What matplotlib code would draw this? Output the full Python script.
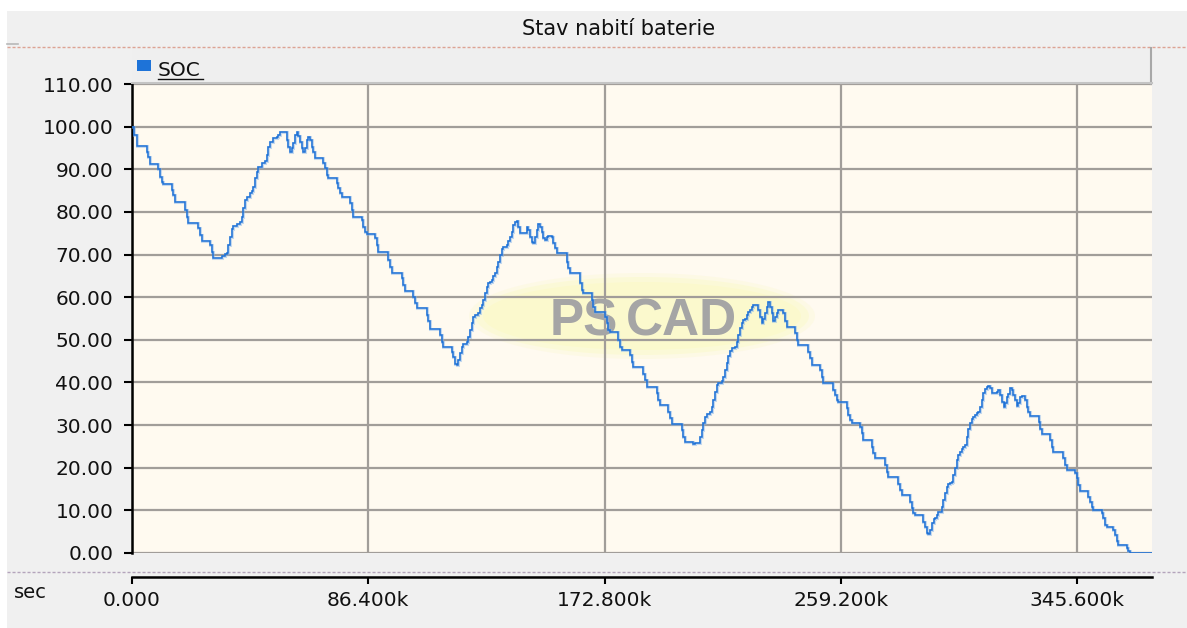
import numpy as np
import matplotlib
matplotlib.use("Agg")
import matplotlib.pyplot as plt
from matplotlib.patches import Rectangle, Ellipse
from matplotlib.lines import Line2D

# ---------------- data (time in kiloseconds, SOC in %) ----------------
time_ks = [
    0.0, 0.7, 1.9, 5.4, 6.0, 6.6, 9.6, 10.2, 10.9, 11.5, 14.5, 15.1, 15.7, 19.4, 20.0, 20.6,
    24.2, 24.9, 25.5, 28.5, 29.1, 29.7, 32.8, 34.0, 34.6, 35.2, 35.8, 36.5, 37.1, 38.3, 39.5,
    40.1, 40.7, 41.3, 41.9, 43.2, 43.8, 44.4, 45.0, 45.6, 46.2, 47.4, 48.6, 49.3, 49.9, 50.5,
    51.7, 52.9, 53.5, 54.1, 56.6, 57.2, 57.8, 58.4, 59.0, 59.6, 60.2, 60.8, 61.4, 62.1, 62.7,
    63.3, 63.9, 64.5, 65.1, 65.7, 66.3, 66.9, 70.0, 70.6, 71.2, 71.8, 74.9, 75.5, 76.1, 76.7,
    79.7, 80.3, 80.9, 84.0, 84.6, 85.2, 85.8, 88.9, 89.5, 90.1, 93.7, 94.4, 95.0, 98.6, 99.2,
    99.8, 102.9, 103.5, 104.1, 107.8, 108.4, 109.0, 112.6, 113.3, 113.9, 116.9, 117.5, 118.1,
    118.7, 119.3, 120.0, 120.6, 121.2, 122.4, 123.0, 123.6, 124.2, 124.8, 125.4, 126.6, 127.3,
    127.9, 128.5, 129.1, 129.7, 130.3, 130.9, 131.5, 132.1, 132.8, 133.4, 134.0, 134.6, 135.2,
    135.8, 137.0, 137.6, 138.2, 138.9, 139.5, 140.1, 140.7, 141.3, 141.9, 144.3, 144.9, 145.6,
    146.2, 146.8, 147.4, 148.0, 148.6, 149.2, 149.8, 150.4, 151.0, 151.6, 152.2, 153.5, 154.1,
    154.7, 155.3, 159.0, 159.6, 160.2, 163.8, 164.5, 165.1, 168.1, 168.7, 169.3, 173.0, 173.6,
    174.2, 174.8, 177.9, 178.5, 179.1, 182.1, 182.7, 183.3, 187.0, 187.6, 188.2, 191.9, 192.5,
    193.1, 196.1, 196.7, 197.4, 201.0, 201.6, 202.2, 205.3, 205.9, 207.7, 208.3, 208.9, 209.6,
    210.2, 211.4, 212.0, 212.6, 213.2, 213.8, 214.4, 215.7, 216.3, 216.9, 217.5, 218.1, 218.7,
    219.3, 220.5, 221.1, 221.7, 222.4, 223.0, 223.6, 224.2, 224.8, 225.4, 226.0, 226.6, 227.2,
    229.1, 229.7, 230.3, 230.9, 231.5, 232.1, 232.7, 233.3, 233.9, 234.5, 235.2, 235.8, 236.4,
    238.2, 238.8, 239.4, 242.5, 243.1, 243.7, 247.3, 248.0, 248.6, 251.6, 252.2, 252.8, 256.5,
    257.1, 257.7, 258.3, 261.3, 262.0, 262.6, 263.2, 266.2, 266.8, 267.4, 270.5, 271.1, 271.7,
    275.4, 276.0, 276.6, 280.2, 280.9, 281.5, 284.5, 285.1, 285.7, 286.3, 289.4, 290.0, 290.6,
    291.2, 291.8, 292.5, 293.1, 293.7, 294.3, 294.9, 295.5, 296.1, 296.7, 297.3, 297.9, 298.5,
    299.1, 299.8, 300.4, 301.0, 301.6, 302.2, 302.8, 303.4, 304.0, 304.6, 305.2, 305.8, 306.5,
    307.1, 307.7, 308.3, 308.9, 309.5, 310.1, 310.7, 311.3, 311.9, 312.6, 313.2, 313.8, 314.4,
    316.2, 316.8, 317.4, 318.1, 318.7, 319.3, 319.9, 320.5, 321.1, 321.7, 322.3, 322.9, 323.5,
    324.1, 324.8, 325.4, 326.6, 327.2, 327.8, 328.4, 331.5, 332.1, 332.7, 335.7, 336.3, 336.9,
    340.6, 341.2, 341.8, 344.9, 345.5, 346.1, 346.7, 349.7, 350.3, 351.0, 351.6, 354.6, 355.2,
    355.8, 356.4, 358.9, 359.5, 360.1, 360.7, 363.8, 364.4, 365.0, 373.0,
]
soc = [
    100.0, 98.0, 95.5, 94.1, 92.8, 91.2, 90.0, 88.3, 87.1, 86.6, 85.1, 84.0, 82.4, 80.4, 78.9, 77.5,
    76.2, 74.6, 73.2, 72.2, 70.7, 69.1, 69.7, 70.1, 70.3, 72.2, 74.2, 76.0, 76.7, 77.2, 77.7,
    78.9, 80.8, 82.8, 83.6, 84.4, 85.0, 85.9, 87.9, 89.4, 90.6, 91.4, 92.0, 93.3, 95.3, 96.5,
    97.3, 97.6, 98.0, 98.8, 96.9, 95.3, 94.1, 94.9, 96.1, 98.0, 98.8, 97.8, 96.5, 94.9, 94.1,
    94.9, 96.9, 97.5, 96.9, 95.3, 94.1, 92.6, 91.4, 90.2, 88.7, 87.9, 86.7, 85.5, 84.4, 83.6,
    82.0, 80.4, 78.9, 78.1, 76.5, 75.4, 74.8, 73.8, 72.2, 70.7, 68.7, 67.1, 65.7, 64.4, 62.9,
    61.5, 60.1, 58.6, 57.4, 55.8, 54.3, 52.5, 51.1, 49.6, 48.2, 47.2, 46.0, 44.3,
    44.1, 45.3, 46.8, 48.4, 49.0, 49.6, 50.7, 52.3, 53.9, 55.4, 55.8, 56.4, 57.4,
    58.2, 59.3, 60.9, 62.3, 63.3, 63.6, 64.0, 65.0, 65.7, 67.1, 68.3, 69.9, 71.2,
    71.7, 72.2, 73.2, 74.2, 75.4, 76.9, 77.7, 77.9, 76.5, 75.0, 76.5, 75.8, 74.2,
    73.0, 72.8, 74.2, 75.8, 77.2, 76.5, 75.4, 73.8, 73.4, 74.2, 74.3, 74.0, 72.6,
    71.5, 70.3, 68.3, 66.8, 65.6, 63.3, 61.7, 60.9, 59.3, 57.8, 56.6, 55.4, 53.9,
    52.3, 51.9, 50.0, 48.4, 47.6, 46.4, 44.9, 43.6, 42.1, 40.6, 39.0, 37.5, 35.9,
    34.7, 33.1, 31.6, 30.3, 28.8, 27.3, 26.0, 25.6, 25.9, 27.3, 28.8, 30.6, 32.0,
    32.6, 33.1, 34.3, 35.9, 37.8, 39.4, 39.8, 40.4, 41.2, 42.9, 44.6, 46.2, 47.4,
    48.0, 48.4, 49.6, 51.1, 52.7, 54.0, 54.6, 55.0, 55.8, 56.6, 57.0, 57.6, 58.2,
    57.0, 55.4, 53.9, 55.0, 56.2, 57.6, 58.9, 57.8, 56.2, 54.3, 55.4, 56.2, 57.0,
    56.2, 54.3, 52.9, 51.5, 50.0, 48.8, 47.2, 45.7, 44.1, 42.9, 41.3, 39.8, 38.2,
    37.1, 35.9, 35.3, 33.9, 32.4, 31.2, 30.6, 29.6, 28.1, 26.5, 24.9, 23.4, 22.2,
    20.6, 19.1, 17.9, 16.3, 14.8, 13.6, 12.0, 10.5, 9.3, 8.8, 7.3, 6.2, 4.6,
    4.5, 5.4, 7.0, 7.9, 8.1, 8.9, 9.5, 9.7, 10.9, 12.4, 14.0, 15.5, 16.2,
    16.5, 16.7, 18.3, 19.9, 21.8, 23.0, 23.8, 24.3, 24.8, 25.3, 27.3, 29.2, 30.4,
    31.4, 32.0, 32.4, 32.8, 33.1, 34.3, 35.9, 37.5, 38.4, 39.0, 39.2, 38.6, 37.6,
    37.8, 38.2, 37.1, 35.5, 34.2, 35.1, 36.7, 37.3, 38.6, 38.2, 37.1, 35.9, 34.5,
    35.1, 36.7, 36.8, 35.9, 34.3, 33.1, 32.1, 30.8, 29.2, 27.9, 26.5, 24.9, 23.8,
    22.2, 20.6, 19.5, 18.7, 17.5, 15.9, 14.6, 13.2, 12.0, 10.9, 10.2, 9.3, 8.1,
    6.6, 6.0, 5.4, 4.2, 2.9, 1.9, 1.1, 0.5, 0.0, 0.0,
]
x_ticks_s = [0, 86400, 172800, 259200, 345600]
x_tick_labels = ["0.000", "86.400k", "172.800k", "259.200k", "345.600k"]
y_ticks = [0, 10, 20, 30, 40, 50, 60, 70, 80, 90, 100, 110]
title = "Stav nabití baterie"
series_name = "SOC"
x_unit = "sec"

# ---------------- layout helpers (pixels) ----------------
W, H = 1187, 628
def fx(px):
    return px / W
def fy(py):
    return 1 - py / H

GRAY = "#F0F0F0"
fig = plt.figure(figsize=(W / 100, H / 100), dpi=100, facecolor=GRAY)

# white margins at top and left
fig.patches.append(Rectangle((0, fy(11)), 1, 11 / H, transform=fig.transFigure,
                             facecolor="white", edgecolor="none", zorder=0))
fig.patches.append(Rectangle((0, 0), fx(7), 1, transform=fig.transFigure,
                             facecolor="white", edgecolor="none", zorder=0))

# title
fig.text(fx(619), fy(29), title, ha="center", va="center", fontsize=15,
         family="DejaVu Sans", color="#111111")
fig.lines.append(Line2D([fx(7), fx(18)], [fy(44), fy(44)], transform=fig.transFigure,
                        color="#B8B8B8", lw=1.2))
# dotted separators
fig.lines.append(Line2D([fx(7), 1], [fy(46.5), fy(46.5)], transform=fig.transFigure,
                        color="#DDA394", lw=1.0, dashes=(2.2, 1.4)))
fig.lines.append(Line2D([fx(7), 1], [fy(572), fy(572)], transform=fig.transFigure,
                        color="#B4A4BC", lw=1.0, dashes=(2.2, 1.4)))

# legend bar
fig.patches.append(Rectangle((fx(132), fy(84)), fx(1152) - fx(132), (84 - 48) / H,
                             transform=fig.transFigure, facecolor="#EFEFEF",
                             edgecolor="none", zorder=1))
fig.lines.append(Line2D([fx(1151), fx(1151)], [fy(48), fy(84)], transform=fig.transFigure,
                        color="#A8A8A8", lw=1.5, zorder=2))
fig.lines.append(Line2D([fx(132), fx(1152)], [fy(83), fy(83)], transform=fig.transFigure,
                        color="#C4C4C4", lw=1.5, zorder=2))
fig.patches.append(Rectangle((fx(137), fy(71)), 14 / W, 11 / H, transform=fig.transFigure,
                             facecolor="#1E73D8", edgecolor="none", zorder=3))
fig.text(fx(158), fy(76), series_name, ha="left", va="baseline", fontsize=14.5,
         family="DejaVu Sans", color="#111111")
fig.lines.append(Line2D([fx(158), fx(203)], [fy(79), fy(79)], transform=fig.transFigure,
                        color="#111111", lw=1.0, zorder=3))

# ---------------- main plot ----------------
ax = fig.add_axes([fx(132), fy(553), fx(1152) - fx(132), (553 - 84) / H])
ax.set_facecolor("#FFFAF0")
xmax = 373000
ax.set_xlim(0, xmax)
ax.set_ylim(0, 110)
t_sec = np.array(time_ks) * 1000.0
ax.plot(t_sec, soc, drawstyle="steps-post", color="#7FB0EA", lw=2.2, alpha=0.45,
        zorder=4, solid_joinstyle="miter")
ax.plot(t_sec, soc, drawstyle="steps-post", color="#1F72D6", lw=1.1, zorder=5,
        solid_joinstyle="miter")

ax.set_xticks(x_ticks_s)
ax.set_yticks(y_ticks)
ax.set_yticklabels([f"{v:.2f}" for v in y_ticks])
ax.tick_params(axis="x", length=0, labelbottom=False)
ax.tick_params(axis="y", direction="out", length=6, width=1.5, color="black",
               labelsize=14.5, pad=7.5, labelcolor="#111111")
ax.set_axisbelow(True)
ax.grid(True, color="#A19D99", lw=1.6)
for side in ("top", "right", "bottom"):
    ax.spines[side].set_visible(False)
ax.spines["left"].set_color("black")
ax.spines["left"].set_linewidth(1.8)
for lbl in ax.get_yticklabels():
    lbl.set_family("DejaVu Sans")

# watermark
ell_center = (fx(642), fy(316))
for wpx, hpx, a in [(346, 86, 0.3), (334, 78, 0.55), (318, 68, 0.9)]:
    ax.add_patch(Ellipse(ell_center, wpx / W, hpx / H, transform=fig.transFigure,
                         facecolor="#FBF9CC", edgecolor="none", alpha=a, zorder=0.3))
ax.text(fx(618), fy(335), "PS", transform=fig.transFigure, ha="right", va="baseline",
        fontsize=37, fontweight="bold", family="Liberation Sans", color="#A5A5A5", zorder=2)
ax.text(fx(626), fy(335), "CAD", transform=fig.transFigure, ha="left", va="baseline",
        fontsize=37, fontweight="bold", family="Liberation Sans", color="#A5A5A5", zorder=2)

# ---------------- bottom time axis ----------------
ax2 = fig.add_axes([fx(132), fy(577), fx(1152) - fx(132), 0.0001])
ax2.set_xlim(0, xmax)
ax2.patch.set_visible(False)
ax2.set_yticks([])
for side in ("top", "right", "left"):
    ax2.spines[side].set_visible(False)
ax2.spines["bottom"].set_color("black")
ax2.spines["bottom"].set_linewidth(1.8)
ax2.set_xticks(x_ticks_s)
ax2.set_xticklabels(x_tick_labels)
ax2.tick_params(axis="x", direction="out", length=5, width=1.5, color="black",
                labelsize=14.5, pad=5, labelcolor="#111111")
fig.text(fx(14), fy(592), x_unit, ha="left", va="center", fontsize=14,
         family="DejaVu Sans", color="#111111")

fig.savefig("out.png", dpi=100, facecolor=GRAY)
